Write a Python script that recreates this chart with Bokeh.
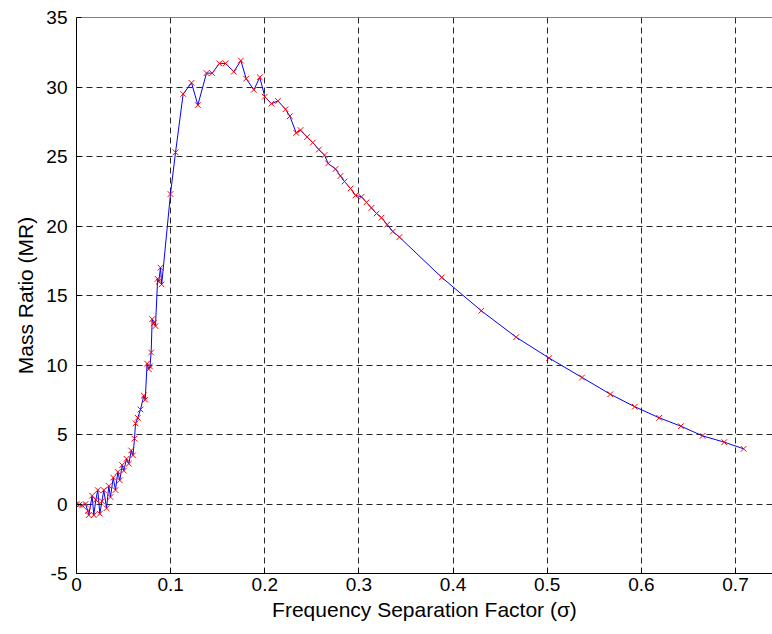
from bokeh.plotting import figure
from bokeh.models import Range1d, FixedTicker, Span
from bokeh.embed import file_html
from bokeh.resources import INLINE

# Frequency separation factor (sigma) and mass ratio (MR)
sigma = [0.000, 0.003, 0.006, 0.0096, 0.012, 0.013, 0.0166, 0.0184, 0.0205, 0.0226,
         0.0248, 0.027, 0.029, 0.0319, 0.0343, 0.0361, 0.039, 0.0414, 0.0439, 0.046,
         0.0485, 0.0503, 0.0531, 0.0556, 0.0581, 0.0600, 0.0616, 0.0627, 0.0651, 0.068,
         0.0715, 0.0730, 0.0750, 0.0768, 0.0780, 0.0793, 0.0804, 0.0820, 0.0839, 0.0862,
         0.0874, 0.0892, 0.0905, 0.0998, 0.1052, 0.1133, 0.1222, 0.1289, 0.1381, 0.1441,
         0.1519, 0.1583, 0.1671, 0.1746, 0.1802, 0.1884, 0.1947, 0.2000, 0.2071, 0.2139,
         0.2220, 0.2266, 0.2334, 0.2379, 0.2450, 0.2510, 0.2574, 0.2634, 0.2673, 0.2751,
         0.2804, 0.2847, 0.2911, 0.2964, 0.3027, 0.3080, 0.3133, 0.3187, 0.3240, 0.3300,
         0.3360, 0.3430, 0.3880, 0.4300, 0.4670, 0.5020, 0.5370, 0.5670, 0.5930, 0.6190,
         0.6420, 0.6650, 0.6880, 0.7086]
mr = [0.0, -0.05, -0.1, 0.0, -0.5, -0.8, 0.6, -0.8, 0.3, 1.0,
      -0.7, 0.2, 1.0, -0.3, 1.3, 0.5, 1.9, 1.0, 2.3, 1.7,
      2.8, 2.4, 3.25, 2.9, 3.85, 3.5, 4.7, 5.8, 6.2, 6.8,
      7.8, 7.5, 10.1, 9.7, 9.9, 10.9, 13.3, 13.0, 12.8, 16.2,
      16.0, 17.0, 15.8, 22.3, 25.3, 29.5, 30.3, 28.7, 31.0, 31.0,
      31.7, 31.7, 31.1, 31.9, 30.6, 29.8, 30.7, 29.3, 28.8, 29.0,
      28.4, 27.9, 26.7, 26.9, 26.4, 26.0, 25.5, 25.1, 24.5, 24.1,
      23.6, 23.2, 22.7, 22.2, 22.1, 21.7, 21.3, 20.9, 20.6, 20.1,
      19.6, 19.2, 16.3, 13.9, 12.0, 10.5, 9.1, 7.9, 7.0, 6.2,
      5.6, 4.9, 4.45, 3.97]

x_ticks = [0, 0.1, 0.2, 0.3, 0.4, 0.5, 0.6, 0.7]
x_tick_labels = ["0", "0.1", "0.2", "0.3", "0.4", "0.5", "0.6", "0.7"]
y_ticks = [-5, 0, 5, 10, 15, 20, 25, 30, 35]
y_tick_labels = ["-5", "0", "5", "10", "15", "20", "25", "30", "35"]

FONT = "Liberation Sans"
TICK_FS = "19px"
LABEL_FS = "21px"

p = figure(width=772, height=634, output_backend="svg", toolbar_location=None,
           x_range=Range1d(0, 0.7393), y_range=Range1d(-5, 35),
           min_border_left=76, min_border_right=0, min_border_top=17, min_border_bottom=61)
p.outline_line_color = None
p.background_fill_color = "white"
p.border_fill_color = "white"

for ax in (p.xaxis[0], p.yaxis[0]):
    ax.major_tick_in = 5
    ax.major_tick_out = 0
    ax.minor_tick_line_color = None
    ax.axis_line_color = "black"
    ax.axis_line_width = 1
    ax.major_tick_line_color = "black"
    ax.major_label_text_font = FONT
    ax.major_label_text_font_size = TICK_FS
    ax.major_label_text_color = "black"
    ax.axis_label_text_font = FONT
    ax.axis_label_text_font_size = LABEL_FS
    ax.axis_label_text_font_style = "normal"
    ax.axis_label_text_color = "black"

p.xaxis.ticker = FixedTicker(ticks=x_ticks)
p.yaxis.ticker = FixedTicker(ticks=y_ticks)
p.xaxis.major_label_overrides = {t: s for t, s in zip(x_ticks, x_tick_labels)}
p.yaxis.major_label_overrides = {t: s for t, s in zip(y_ticks, y_tick_labels)}
p.xaxis.axis_label = "Frequency Separation Factor (σ)"
p.yaxis.axis_label = "Mass Ratio (MR)"
p.xaxis.major_label_standoff = 4
p.yaxis.major_label_standoff = 9
p.xaxis.axis_label_standoff = 4
p.yaxis.axis_label_standoff = 6

p.xgrid.ticker = FixedTicker(ticks=x_ticks)
p.ygrid.ticker = FixedTicker(ticks=y_ticks)
for g in (p.xgrid[0], p.ygrid[0]):
    g.grid_line_color = "black"
    g.grid_line_dash = "6 4"
    g.grid_line_width = 1
    g.grid_line_alpha = 0.85

top = Span(location=35, dimension="width", line_color="black", line_width=1)
p.add_layout(top)

p.line(sigma, mr, line_color="blue", line_width=1)
p.scatter(sigma, mr, marker="x", size=8, line_color="red", line_width=1)

open("out.html", "w").write(file_html(p, INLINE))
